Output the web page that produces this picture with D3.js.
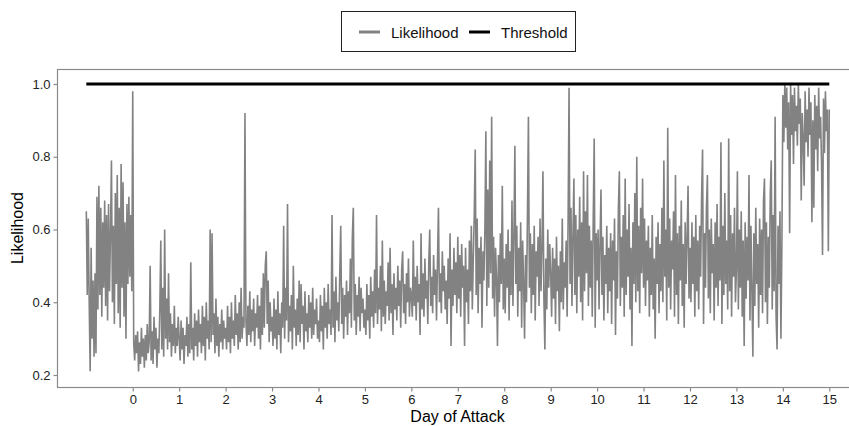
<!DOCTYPE html>
<html>
<head>
<meta charset="utf-8">
<script src="https://cdn.jsdelivr.net/npm/d3@7"></script>
<style>
  body { margin: 0; background: #fff; }
  text { font-family: "Liberation Sans", Arial, Helvetica, sans-serif; }
</style>
</head>
<body>
<div id="chart"></div>
<script>
// readings every half hour (48 per day)
const dayNeg1 = [0.65,0.42,0.63,0.40,0.21,0.55,0.30,0.46,0.25,0.48,0.26,0.69,0.38,0.72,0.42,0.66,0.36,0.62,0.44,0.68,0.39,0.64,0.35,0.67,0.43,0.59,0.79,0.40,0.61,0.34,0.70,0.45,0.75,0.37,0.66,0.33,0.78,0.44,0.73,0.36,0.62,0.30,0.67,0.45,0.69,0.47,0.64,0.43];
const day0 = [0.98,0.29,0.24,0.31,0.26,0.32,0.21,0.29,0.23,0.33,0.25,0.30,0.22,0.31,0.24,0.34,0.26,0.29,0.50,0.24,0.32,0.23,0.36,0.27,0.33,0.22,0.30,0.26,0.38,0.57,0.27,0.44,0.25,0.60,0.30,0.41,0.27,0.48,0.29,0.37,0.25,0.34,0.28,0.39,0.26,0.33,0.28,0.36];
const day1 = [0.30,0.24,0.35,0.27,0.33,0.23,0.31,0.28,0.36,0.25,0.34,0.26,0.51,0.27,0.33,0.24,0.37,0.28,0.35,0.25,0.38,0.29,0.34,0.26,0.39,0.28,0.36,0.24,0.40,0.30,0.35,0.27,0.60,0.29,0.59,0.31,0.37,0.26,0.41,0.28,0.36,0.25,0.34,0.29,0.38,0.27,0.35,0.30];
const day2 = [0.33,0.27,0.39,0.29,0.36,0.26,0.40,0.30,0.35,0.28,0.42,0.31,0.37,0.27,0.40,0.29,0.44,0.30,0.36,0.33,0.92,0.35,0.28,0.39,0.31,0.43,0.29,0.38,0.32,0.41,0.28,0.37,0.33,0.42,0.30,0.39,0.27,0.44,0.31,0.48,0.33,0.50,0.54,0.34,0.46,0.29,0.40,0.32];
const day3 = [0.36,0.28,0.41,0.30,0.38,0.27,0.43,0.31,0.37,0.26,0.40,0.33,0.61,0.30,0.44,0.35,0.67,0.29,0.39,0.32,0.42,0.27,0.50,0.33,0.38,0.28,0.41,0.31,0.46,0.29,0.45,0.34,0.39,0.27,0.43,0.32,0.37,0.29,0.42,0.33,0.40,0.30,0.44,0.31,0.38,0.34,0.41,0.30];
const day4 = [0.35,0.29,0.42,0.32,0.39,0.27,0.44,0.33,0.40,0.30,0.45,0.34,0.38,0.31,0.64,0.33,0.43,0.29,0.47,0.35,0.40,0.32,0.48,0.61,0.34,0.44,0.30,0.42,0.36,0.46,0.31,0.43,0.37,0.52,0.33,0.58,0.66,0.35,0.45,0.31,0.42,0.36,0.47,0.32,0.44,0.37,0.41,0.33];
const day5 = [0.38,0.31,0.45,0.35,0.42,0.30,0.47,0.36,0.43,0.33,0.49,0.37,0.64,0.34,0.44,0.38,0.50,0.32,0.57,0.36,0.46,0.34,0.43,0.39,0.51,0.35,0.55,0.37,0.45,0.31,0.48,0.38,0.44,0.35,0.50,0.39,0.46,0.33,0.49,0.54,0.37,0.45,0.34,0.48,0.40,0.52,0.36,0.44];
const day6 = [0.42,0.36,0.57,0.39,0.47,0.35,0.50,0.40,0.45,0.31,0.59,0.38,0.48,0.36,0.52,0.41,0.46,0.34,0.51,0.60,0.39,0.47,0.37,0.53,0.42,0.49,0.35,0.51,0.66,0.40,0.48,0.37,0.54,0.43,0.50,0.38,0.46,0.34,0.52,0.41,0.59,0.28,0.49,0.39,0.55,0.42,0.51,0.37];
const day7 = [0.58,0.41,0.53,0.36,0.56,0.44,0.50,0.28,0.55,0.40,0.49,0.34,0.57,0.43,0.61,0.38,0.52,0.64,0.82,0.42,0.63,0.37,0.55,0.45,0.58,0.33,0.54,0.46,0.60,0.87,0.39,0.71,0.44,0.79,0.48,0.91,0.41,0.58,0.36,0.55,0.47,0.28,0.53,0.40,0.59,0.45,0.72,0.38];
const day8 = [0.52,0.37,0.56,0.44,0.60,0.35,0.54,0.42,0.68,0.39,0.58,0.83,0.45,0.61,0.36,0.55,0.43,0.62,0.33,0.57,0.46,0.30,0.53,0.40,0.64,0.91,0.44,0.59,0.37,0.56,0.42,0.61,0.35,0.54,0.47,0.58,0.39,0.63,0.43,0.55,0.76,0.41,0.27,0.52,0.38,0.60,0.44,0.56];
const day9 = [0.48,0.36,0.55,0.41,0.52,0.34,0.58,0.43,0.50,0.32,0.54,0.40,0.63,0.38,0.51,0.44,0.57,0.36,0.62,0.99,0.45,0.66,0.39,0.58,0.74,0.42,0.64,0.37,0.60,0.47,0.69,0.40,0.62,0.35,0.76,0.43,0.65,0.48,0.75,0.39,0.61,0.44,0.57,0.36,0.63,0.85,0.33,0.59];
const day10 = [0.46,0.60,0.38,0.56,0.71,0.42,0.58,0.35,0.53,0.45,0.61,0.37,0.55,0.43,0.59,0.34,0.57,0.46,0.63,0.31,0.54,0.41,0.66,0.76,0.39,0.58,0.44,0.64,0.36,0.74,0.42,0.60,0.47,0.67,0.38,0.55,0.28,0.62,0.45,0.70,0.40,0.80,0.43,0.61,0.37,0.66,0.48,0.74];
const day11 = [0.44,0.63,0.39,0.57,0.46,0.61,0.36,0.55,0.42,0.64,0.38,0.52,0.30,0.58,0.45,0.62,0.37,0.56,0.43,0.66,0.40,0.79,0.47,0.60,0.35,0.88,0.44,0.63,0.38,0.57,0.49,0.65,0.36,0.75,0.42,0.59,0.34,0.61,0.46,0.68,0.39,0.56,0.33,0.62,0.45,0.58,0.72,0.41];
const day12 = [0.55,0.40,0.62,0.45,0.58,0.36,0.64,0.43,0.57,0.38,0.61,0.47,0.69,0.82,0.34,0.59,0.44,0.66,0.75,0.41,0.60,0.37,0.63,0.48,0.56,0.35,0.62,0.44,0.67,0.39,0.58,0.46,0.84,0.34,0.61,0.42,0.70,0.45,0.57,0.38,0.85,0.43,0.64,0.36,0.59,0.47,0.66,0.40];
const day13 = [0.49,0.76,0.38,0.60,0.44,0.65,0.36,0.57,0.28,0.62,0.41,0.58,0.46,0.75,0.35,0.61,0.43,0.25,0.59,0.39,0.66,0.45,0.56,0.33,0.63,0.42,0.60,0.37,0.68,0.74,0.40,0.62,0.34,0.58,0.44,0.70,0.79,0.38,0.64,0.43,0.91,0.36,0.27,0.61,0.45,0.65,0.30,0.56];
const day14 = [0.97,0.84,1.00,0.88,0.99,0.82,0.95,0.59,1.00,0.86,0.97,0.78,0.99,0.87,0.94,0.83,1.00,0.89,0.96,0.68,0.92,0.85,0.72,0.98,0.84,0.93,0.80,0.99,0.86,0.95,0.62,0.90,0.66,0.97,0.82,0.94,0.76,0.99,0.85,0.91,0.78,0.53,0.96,0.81,0.98,0.87,0.93,0.54,0.93];

const readingsPerDay = 48;
const firstDay = -1;
const thresholdValue = 1.0;
const thresholdDays = [-1, 15];
const xTicks = [0,1,2,3,4,5,6,7,8,9,10,11,12,13,14,15];
const yTicks = [0.2, 0.4, 0.6, 0.8, 1.0];

const width = 849;
const height = 426;
const panel = { left: 57, top: 69, right: 858, bottom: 387 };

const likelihood = [].concat(dayNeg1, day0, day1, day2, day3, day4, day5, day6,
    day7, day8, day9, day10, day11, day12, day13, day14)
    .map((v, i) => ({ day: firstDay + i / readingsPerDay, value: v }));

const svg = d3.select("#chart").append("svg")
    .attr("width", width)
    .attr("height", height);

const x = d3.scaleLinear().domain([-1, 15]).range([86.3, 829.3]);
const y = d3.scaleLinear().domain([0.2, 1.0]).range([375, 84]);

// panel border
svg.append("rect")
    .attr("x", panel.left + 0.5)
    .attr("y", panel.top + 0.5)
    .attr("width", panel.right - panel.left)
    .attr("height", panel.bottom - panel.top)
    .attr("fill", "none")
    .attr("stroke", "#8a8a8a")
    .attr("stroke-width", 1.2);

// the likelihood line
svg.append("path")
    .datum(likelihood)
    .attr("fill", "none")
    .attr("stroke", "#828282")
    .attr("stroke-width", 1.6)
    .attr("stroke-linejoin", "miter")
    .attr("d", d3.line().x(d => x(d.day)).y(d => y(d.value)));

// threshold
svg.append("line")
    .attr("x1", x(thresholdDays[0]))
    .attr("x2", x(thresholdDays[1]))
    .attr("y1", y(thresholdValue))
    .attr("y2", y(thresholdValue))
    .attr("stroke", "#000")
    .attr("stroke-width", 3);

// axes
const xAxis = svg.append("g")
    .attr("transform", `translate(0,${panel.bottom + 0.5})`)
    .call(d3.axisBottom(x).tickValues(xTicks).tickSize(4).tickPadding(3).tickFormat(d3.format("d")));
const yAxis = svg.append("g")
    .attr("transform", `translate(${panel.left + 0.5},0)`)
    .call(d3.axisLeft(y).tickValues(yTicks).tickSize(4).tickPadding(3).tickFormat(d3.format(".1f")));

[xAxis, yAxis].forEach(g => {
    g.select(".domain").remove();
    g.selectAll(".tick line").attr("stroke", "#8a8a8a").attr("stroke-width", 1.2);
    g.selectAll(".tick text")
        .attr("fill", "#222")
        .style("font-size", "13px")
        .style("font-family", "Liberation Sans, Arial, sans-serif");
});

// axis titles
svg.append("text")
    .attr("x", (panel.left + panel.right) / 2)
    .attr("y", 422)
    .attr("text-anchor", "middle")
    .style("font-size", "16px")
    .text("Day of Attack");

svg.append("text")
    .attr("transform", `translate(23,${(panel.top + panel.bottom) / 2}) rotate(-90)`)
    .attr("text-anchor", "middle")
    .style("font-size", "16px")
    .text("Likelihood");

// legend
const legend = svg.append("g");
legend.append("rect")
    .attr("x", 341.5).attr("y", 11.5)
    .attr("width", 234).attr("height", 40)
    .attr("fill", "#fff")
    .attr("stroke", "#222")
    .attr("stroke-width", 1);

const legendItems = [
    { label: "Likelihood", color: "#828282", x: 359 },
    { label: "Threshold", color: "#000", x: 469 }
];
legendItems.forEach(item => {
    legend.append("line")
        .attr("x1", item.x).attr("x2", item.x + 21)
        .attr("y1", 32).attr("y2", 32)
        .attr("stroke", item.color)
        .attr("stroke-width", 3);
    legend.append("text")
        .attr("x", item.x + 32)
        .attr("y", 37.5)
        .style("font-size", "15px")
        .attr("fill", "#111")
        .text(item.label);
});
</script>
</body>
</html>
